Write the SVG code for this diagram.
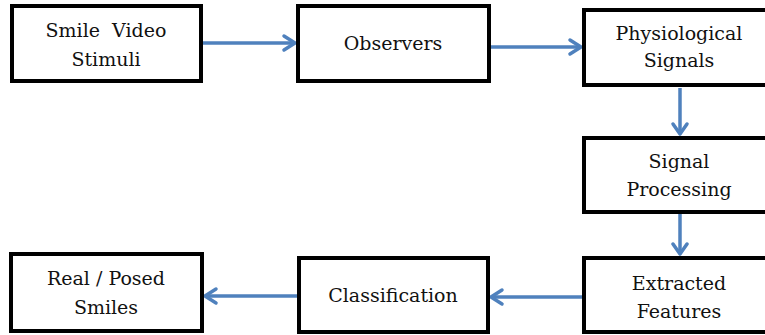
<svg xmlns="http://www.w3.org/2000/svg" width="765" height="335" viewBox="0 0 765 335">
<defs>
<style>
.box{fill:#fff;stroke:#000;stroke-width:4}
.t{font-family:'DejaVu Serif','Liberation Serif',serif;font-size:19px;fill:#111;text-anchor:middle}
.c{fill:none;stroke:#4f81bd;stroke-width:3.5}
.h{fill:none;stroke:#4f81bd;stroke-width:3.5;stroke-linecap:round;stroke-linejoin:round}
</style>
</defs>
<rect width="765" height="335" fill="#fff"/>
<g id="connectors">
<line class="c" x1="203" y1="43" x2="294" y2="43"/>
<polyline class="h" points="284,36 295,43 284,50"/>
<line class="c" x1="491" y1="47" x2="580" y2="47"/>
<polyline class="h" points="570,40 581,47 570,54"/>
<line class="c" x1="680" y1="88" x2="680" y2="134"/>
<polyline class="h" points="673,124 680,134 687,124"/>
<line class="c" x1="680" y1="214" x2="680" y2="254"/>
<polyline class="h" points="673,244 680,254 687,244"/>
<line class="c" x1="582" y1="297" x2="492" y2="297"/>
<polyline class="h" points="502,290 491,297 502,304"/>
<line class="c" x1="297" y1="296" x2="206" y2="296"/>
<polyline class="h" points="216,289 205,296 216,303"/>
</g>
<g id="smile-video-stimuli">
<rect class="box" x="12" y="6" width="189" height="75"/>
<text class="t" x="106" y="37" xml:space="preserve">Smile  Video</text>
<text class="t" x="106" y="66">Stimuli</text>
</g>
<g id="observers">
<rect class="box" x="298" y="6" width="191" height="75"/>
<text class="t" x="393" y="50">Observers</text>
</g>
<g id="physiological-signals">
<rect class="box" x="584" y="10" width="186" height="75"/>
<text class="t" x="679" y="40">Physiological</text>
<text class="t" x="679" y="67">Signals</text>
</g>
<g id="signal-processing">
<rect class="box" x="584" y="138" width="186" height="74"/>
<text class="t" x="679" y="168">Signal</text>
<text class="t" x="679" y="196">Processing</text>
</g>
<g id="extracted-features">
<rect class="box" x="584" y="258" width="186" height="74"/>
<text class="t" x="679" y="290">Extracted</text>
<text class="t" x="679" y="318">Features</text>
</g>
<g id="classification">
<rect class="box" x="299" y="258" width="189" height="74"/>
<text class="t" x="393" y="302">Classification</text>
</g>
<g id="real-posed-smiles">
<rect class="box" x="11" y="254" width="191" height="77"/>
<text class="t" x="106" y="285" xml:space="preserve">Real / Posed</text>
<text class="t" x="106" y="314">Smiles</text>
</g>
</svg>
